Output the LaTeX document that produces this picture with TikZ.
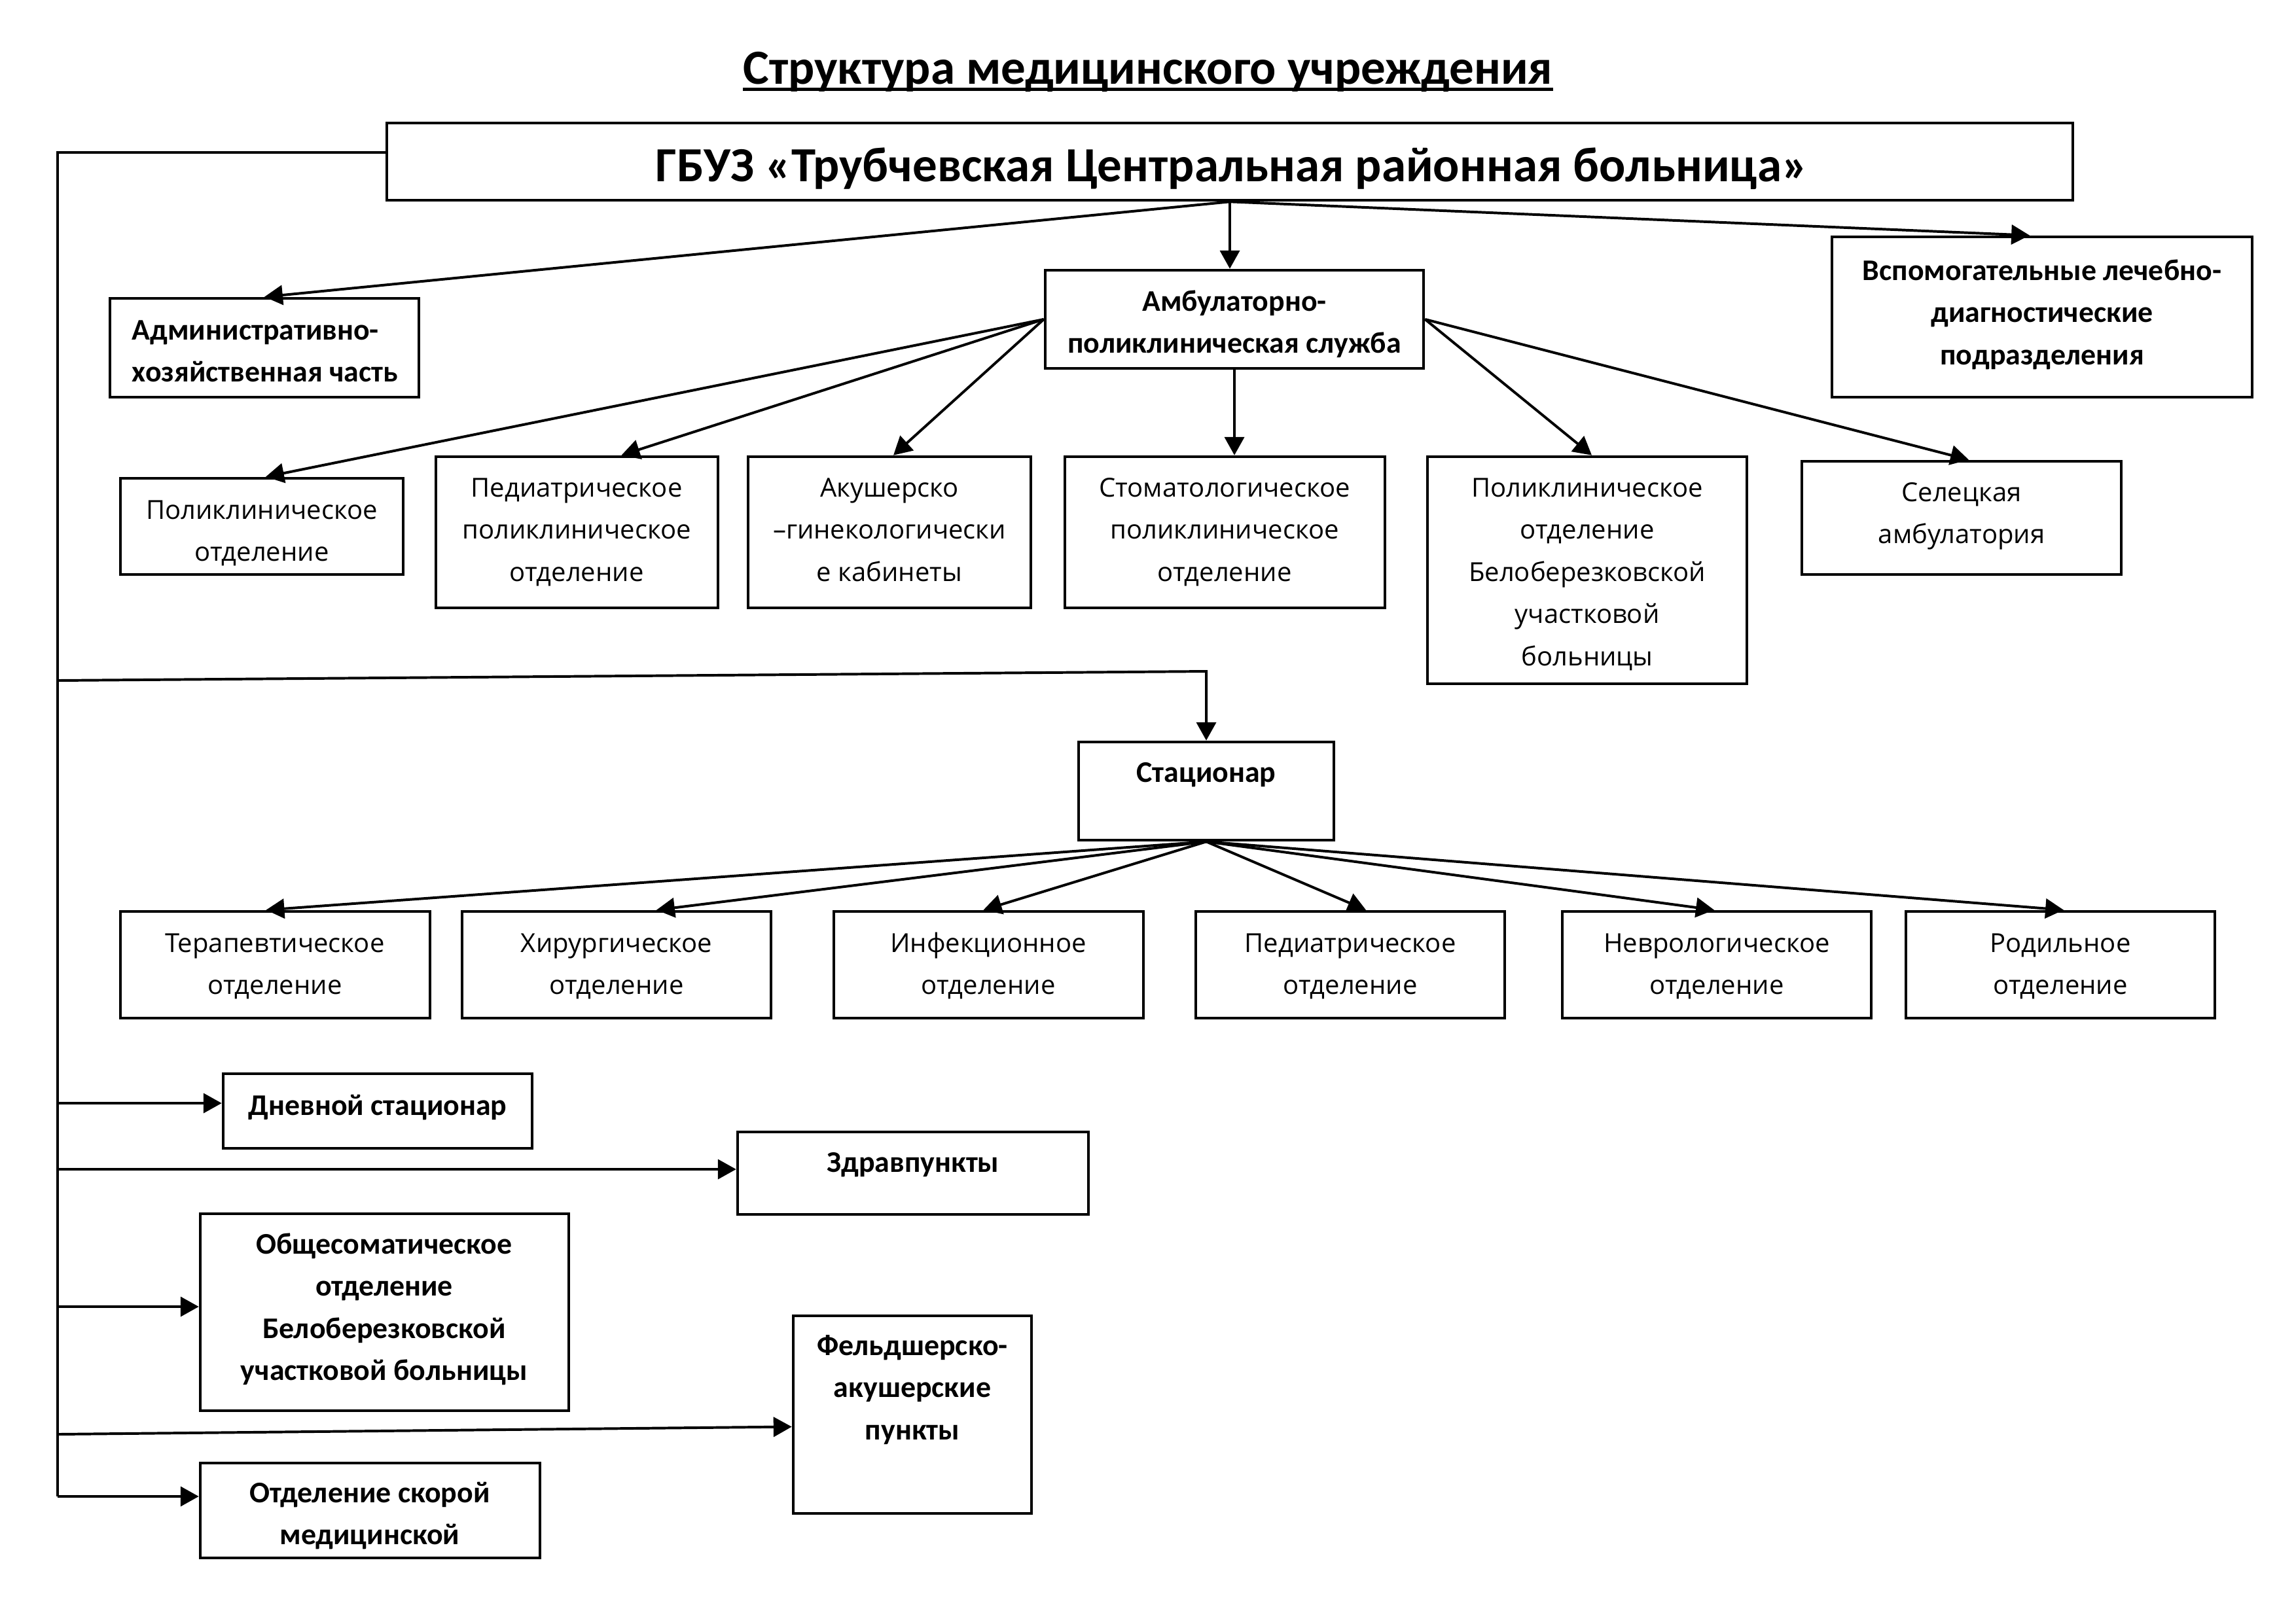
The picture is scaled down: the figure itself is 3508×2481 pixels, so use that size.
\documentclass[tikz,border=0pt]{standalone}
\usepackage{fontspec}
\setmainfont{Open Sans}
\newfontfamily\carl{Carlito}
\usetikzlibrary{arrows.meta,calc}
\newcommand\reg{\fontsize{9.6pt}{15.5pt}\selectfont}
\newcommand\bld{\carl\bfseries\fontsize{11pt}{15.5pt}\selectfont}
\newcommand\bx[5]{\node[box, minimum width={(#4-#2)*0.24pt}, minimum height={(#5-#3)*0.24pt}] (#1) at ({(#2+#4)/2},{(#3+#5)/2}) {};}
\begin{document}
\begin{tikzpicture}[x=0.24pt,y=-0.24pt,
  box/.style={draw, line width=1.1pt, inner sep=0pt, rectangle},
  txt/.style={inner sep=0pt, anchor=north, align=center, font=\reg},
  btxt/.style={inner sep=0pt, anchor=north, align=center, font=\bld},
  con/.style={line width=0.95pt},
  arr/.style={line width=0.95pt, -{Triangle[length=6.7pt,width=7.2pt]}}]
\useasboundingbox (0,0) rectangle (3508,2481);
% title
\node[inner sep=0pt, anchor=base, font={\carl\bfseries\fontsize{18pt}{22pt}\selectfont}] (title) at (1754,128) {Структура медицинского учреждения};
\draw[line width=1.2pt] ($(title.base west)+(0,8)$) -- ($(title.base east)+(0,8)$);
% boxes
\bx{main}{591}{188}{3167}{306}
\bx{admin}{168}{456}{640}{607}
\bx{amb}{1597}{413}{2175}{563}
\bx{vspom}{2799}{362}{3441}{607}
\bx{polik}{184}{731}{616}{878}
\bx{pedpolik}{666}{698}{1097}{929}
\bx{akush}{1143}{698}{1575}{929}
\bx{stomat}{1627}{698}{2116}{929}
\bx{polbel}{2181}{698}{2669}{1045}
\bx{selecka}{2753}{705}{3241}{878}
\bx{stat}{1648}{1134}{2038}{1284}
\bx{terap}{184}{1393}{657}{1556}
\bx{khir}{706}{1393}{1178}{1556}
\bx{infek}{1274}{1393}{1747}{1556}
\bx{pedotd}{1827}{1393}{2299}{1556}
\bx{nevrol}{2387}{1393}{2859}{1556}
\bx{rodil}{2912}{1393}{3384}{1556}
\bx{dnev}{341}{1641}{813}{1755}
\bx{zdrav}{1127}{1730}{1663}{1856}
\bx{obs}{306}{1855}{869}{2156}
\bx{feld}{1212}{2011}{1576}{2313}
\bx{skor}{306}{2236}{825}{2381}
% texts
\node[inner sep=0pt, anchor=base, font={\carl\bfseries\fontsize{18pt}{22pt}\selectfont}] (main-t) at (1882,277) {ГБУЗ «Трубчевская Центральная районная больница»};
\node[btxt, anchor=north west, align=left] (admin-t) at (201,473) {\strut Административно-\\\strut хозяйственная часть};
\node[btxt] (amb-t) at (1886,429) {\strut Амбулаторно-\\\strut поликлиническая служба};
\node[btxt] (vspom-t) at (3120,382) {\strut Вспомогательные лечебно-\\\strut диагностические\\\strut подразделения};
\node[txt] (polik-t) at (400,747) {\strut Поликлиническое\\\strut отделение};
\node[txt] (pedpolik-t) at (881,713) {\strut Педиатрическое\\\strut поликлиническое\\\strut отделение};
\node[txt] (akush-t) at (1359,713) {\strut Акушерско\\\strut –гинекологически\\\strut е кабинеты};
\node[txt] (stomat-t) at (1871,713) {\strut Стоматологическое\\\strut поликлиническое\\\strut отделение};
\node[txt] (polbel-t) at (2425,713) {\strut Поликлиническое\\\strut отделение\\\strut Белоберезковской\\\strut участковой\\\strut больницы};
\node[txt] (selecka-t) at (2997,720) {\strut Селецкая\\\strut амбулатория};
\node[btxt] (stat-t) at (1843,1149) {\strut Стационар};
\node[txt] (terap-t) at (420,1409) {\strut Терапевтическое\\\strut отделение};
\node[txt] (khir-t) at (942,1409) {\strut Хирургическое\\\strut отделение};
\node[txt] (infek-t) at (1510,1409) {\strut Инфекционное\\\strut отделение};
\node[txt] (pedotd-t) at (2063,1409) {\strut Педиатрическое\\\strut отделение};
\node[txt] (nevrol-t) at (2623,1409) {\strut Неврологическое\\\strut отделение};
\node[txt] (rodil-t) at (3148,1409) {\strut Родильное\\\strut отделение};
\node[btxt] (dnev-t) at (577,1658) {\strut Дневной стационар};
\node[btxt] (zdrav-t) at (1395,1745) {\strut Здравпункты};
\node[btxt] (obs-t) at (587,1870) {\strut Общесоматическое\\\strut отделение\\\strut Белоберезковской\\\strut участковой больницы};
\node[btxt] (feld-t) at (1394,2025) {\strut Фельдшерско-\\\strut акушерские\\\strut пункты};
\node[btxt] (skor-t) at (565,2250) {\strut Отделение скорой\\\strut медицинской};
% coordinates on the left trunk
\coordinate (L0) at (88,233);
\coordinate (L1) at (88,1040);
\coordinate (LS) at (1843,1026);
\coordinate (L2) at (88,1686);
\coordinate (L3) at (88,1787);
\coordinate (L4) at (88,1997);
\coordinate (L5) at (88,2192);
\coordinate (L6) at (88,2287);
% connectors from main
\draw[arr] (main.south) -- (main.south |- amb.north);
\draw[arr] (main.south) -- (admin.north);
\draw[arr] (main.south) -- ($(vspom.north)+(-19,0)$);
\draw[con] (main.west |- L0) -- (L0) -- (L6);
\draw[arr] (L1) -- (LS) -- (stat.north);
\draw[arr] (L2) -- (L2 -| dnev.west);
\draw[arr] (L3) -- (L3 -| zdrav.west);
\draw[arr] (L4) -- (L4 -| obs.west);
\draw[arr] (L5) -- ($(feld.west)+(0,18.5)$);
\draw[arr] (L6) -- (L6 -| skor.west);
% ambulatory children
\draw[arr] (amb.west) -- ($(polik.north)+(6,0)$);
\draw[arr] (amb.west) -- ($(pedpolik.north)+(68,0)$);
\draw[arr] (amb.west) -- ($(akush.north)+(6,0)$);
\draw[arr] (amb.south) -- (amb.south |- stomat.north);
\draw[arr] (amb.east) -- ($(polbel.north)+(7,0)$);
\draw[arr] (amb.east) -- ($(selecka.north)+(11,0)$);
% stationar children
\draw[arr] (stat.south) -- ($(terap.north)+(-14,0)$);
\draw[arr] (stat.south) -- ($(khir.north)+(61,0)$);
\draw[arr] (stat.south) -- ($(infek.north)+(-8,0)$);
\draw[arr] (stat.south) -- ($(pedotd.north)+(24,0)$);
\draw[arr] (stat.south) -- ($(nevrol.north)+(-4,0)$);
\draw[arr] (stat.south) -- ($(rodil.north)+(5,0)$);
\end{tikzpicture}
\end{document}
